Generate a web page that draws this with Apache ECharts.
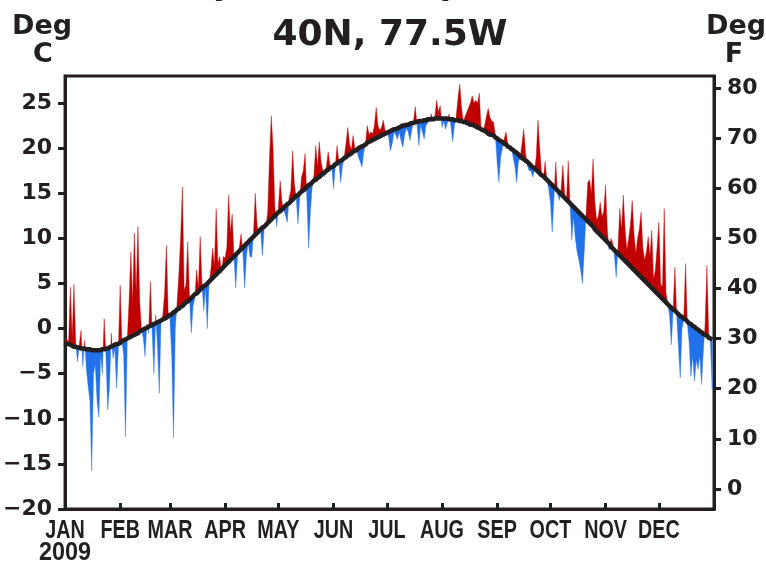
<!DOCTYPE html>
<html><head><meta charset="utf-8">
<script src="https://cdn.jsdelivr.net/npm/echarts@6/dist/echarts.min.js"></script>
<style>html,body{margin:0;padding:0;background:#fff}#c{width:766px;height:568px}</style>
</head><body><div id="c"></div>
<script>
// ---- data ----
const monthStarts = [0,31,59,90,120,151,181,212,243,273,304,334];
const monthNames = ['JAN','FEB','MAR','APR','MAY','JUN','JUL','AUG','SEP','OCT','NOV','DEC'];
const yearLabel = '2009';
const ticksC = [-20,-15,-10,-5,0,5,10,15,20,25];
const ticksF = [0,10,20,30,40,50,60,70,80];
const titleMain = '40N, 77.5W';
const titleTop = 'Daily Mean Temperature';

// daily climatology (deg C), Jan 1 .. Dec 31
const climatology = [
-1.6,-1.7,-1.7,-1.8,-1.9, -2.0,-2.0,-2.1,-2.1,-2.2, -2.2,-2.2,-2.3,-2.3,-2.3, -2.4,-2.4,-2.4,-2.4,-2.4,
-2.4,-2.3,-2.3,-2.2,-2.2, -2.1,-2.0,-1.9,-1.8,-1.7, -1.7,-1.6,-1.4,-1.3,-1.2, -1.1,-1.0,-0.9,-0.8,-0.7,
-0.6,-0.5,-0.3,-0.2,-0.1, 0.0,0.1,0.2,0.3,0.4, 0.5,0.6,0.7,0.8,0.9, 1.0,1.1,1.2,1.4,1.5,
1.6,1.8,1.9,2.1,2.2, 2.4,2.5,2.7,2.9,3.0, 3.2,3.4,3.6,3.8,3.9, 4.1,4.3,4.5,4.7,4.8,
5.0,5.2,5.4,5.6,5.8, 6.0,6.2,6.4,6.6,6.8, 7.0,7.2,7.4,7.6,7.8, 8.0,8.2,8.4,8.6,8.8,
9.0,9.2,9.4,9.6,9.8, 10.0,10.2,10.4,10.6,10.8, 11.0,11.2,11.3,11.5,11.7, 11.9,12.1,12.3,12.5,12.7,
12.9,13.0,13.2,13.4,13.6, 13.8,13.9,14.1,14.3,14.5, 14.7,14.8,15.0,15.2,15.3, 15.5,15.7,15.9,16.0,16.2,
16.4,16.5,16.7,16.8,17.0, 17.2,17.3,17.5,17.6,17.8, 17.9,18.0,18.2,18.3,18.5, 18.6,18.7,18.9,19.0,19.2,
19.3,19.4,19.6,19.7,19.8, 20.0,20.1,20.2,20.3,20.4, 20.6,20.7,20.8,20.9,21.0, 21.1,21.2,21.3,21.4,21.5,
21.6,21.7,21.8,21.9,22.0, 22.1,22.1,22.2,22.3,22.4, 22.5,22.5,22.6,22.6,22.7, 22.8,22.8,22.9,22.9,23.0,
23.0,23.0,23.1,23.1,23.2, 23.2,23.2,23.2,23.3,23.3, 23.3,23.3,23.3,23.3,23.3, 23.3,23.2,23.2,23.2,23.1,
23.1,23.1,23.0,23.0,22.9, 22.9,22.8,22.7,22.6,22.6, 22.5,22.4,22.3,22.2,22.1, 22.0,21.9,21.8,21.6,21.5,
21.5,21.4,21.2,21.1,20.9, 20.8,20.7,20.5,20.4,20.2, 20.1,19.9,19.8,19.6,19.5, 19.3,19.1,18.9,18.8,18.6,
18.5,18.3,18.1,17.9,17.8, 17.6,17.4,17.2,17.0,16.9, 16.7,16.5,16.3,16.1,15.9, 15.7,15.5,15.3,15.1,14.9,
14.7,14.5,14.3,14.1,13.9, 13.7,13.5,13.3,13.1,12.9, 12.7,12.5,12.3,12.1,11.9, 11.7,11.5,11.3,11.0,10.8,
10.6,10.4,10.2,10.0,9.8, 9.6,9.4,9.1,8.9,8.7, 8.5,8.3,8.1,7.9,7.7, 7.5,7.3,7.1,6.9,6.7,
6.5,6.3,6.1,5.9,5.7, 5.5,5.3,5.1,4.9,4.7, 4.5,4.3,4.1,3.9,3.7, 3.5,3.3,3.1,2.9,2.7,
2.5,2.3,2.1,2.0,1.8, 1.6,1.4,1.3,1.1,1.0, 0.8,0.6,0.5,0.3,0.2, 0.0,-0.1,-0.3,-0.4,-0.6,
-0.7,-0.8,-1.0,-1.1,-1.2
];

// daily observed mean temperature 2009 (deg C)
const observed = [
-0.9,-1.2,-1.5,4.6,-1.0,4.9,-1.5,-3.7,-1.8,-0.2,
-4.2,-1.3,-4.5,-6.4,-8.0,-15.8,-5.0,-4.0,-8.0,-9.8,
-3.0,-5.0,1.1,-3.0,-9.0,-6.4,-0.5,-3.3,-2.2,-6.6,
-2.2,4.8,-1.5,-3.0,-12.0,-1.2,3.0,8.5,3.0,10.6,
4.0,11.3,3.0,-0.2,-1.0,-3.1,0.5,-0.5,5.2,-0.5,
-5.0,1.5,-2.0,-7.2,0.9,1.5,4.0,9.2,1.85,1.0,
-3.0,-12.1,0.0,2.8,6.0,10.0,15.7,4.3,4.8,9.6,
3.5,-0.5,2.5,3.4,6.5,4.5,10.2,5.0,2.0,4.5,
0.0,5.0,6.5,8.9,7.0,13.3,7.2,8.0,6.1,8.0,
7.8,9.0,14.8,10.6,12.7,8.0,4.5,8.0,9.0,10.5,
8.5,4.5,8.0,9.5,8.0,7.9,10.5,15.0,11.5,10.5,
10.8,8.1,11.0,11.3,13.0,19.0,23.6,20.0,13.5,11.3,
13.5,16.4,14.0,13.2,12.5,11.8,14.5,15.3,19.7,16.0,
14.5,11.6,14.5,16.8,17.5,19.4,14.5,8.9,13.0,15.7,
17.0,20.3,18.0,20.7,18.5,17.5,16.8,18.0,19.6,18.2,
17.9,15.5,18.0,20.3,18.5,16.2,18.0,19.0,20.5,22.3,
20.5,19.8,21.4,20.0,19.9,19.0,18.5,17.9,19.5,20.5,
22.5,21.5,21.8,21.6,22.5,24.5,22.5,22.0,22.3,23.1,
22.0,21.8,21.2,19.7,20.5,21.8,21.5,21.0,21.8,20.8,
20.1,21.5,22.2,21.8,20.85,22.0,23.0,24.6,22.5,20.3,
22.5,21.8,21.0,22.5,22.8,23.0,23.8,23.0,23.5,25.3,
24.0,24.7,22.3,23.0,22.1,22.8,23.8,22.5,20.7,22.5,
23.5,25.5,27.1,24.5,22.9,23.5,24.0,24.5,25.0,25.8,
25.0,25.3,25.0,26.1,22.1,22.0,22.5,23.5,24.4,23.4,
23.0,22.9,21.5,18.5,16.2,19.0,20.0,21.0,21.8,20.5,
20.0,20.2,19.0,18.0,16.2,18.5,19.0,20.5,22.1,19.5,
18.1,17.5,17.5,16.8,17.5,19.0,23.1,20.0,17.2,16.5,
18.5,16.5,15.5,14.0,10.7,14.5,18.45,15.0,14.2,15.5,
18.1,15.0,14.0,18.6,14.0,9.8,12.4,10.0,8.5,7.6,
6.5,5.0,8.5,12.5,16.2,16.5,15.0,18.8,14.0,12.0,
12.5,14.0,12.4,13.0,15.9,11.0,8.7,10.0,9.5,8.0,
5.7,9.0,13.3,11.0,14.8,11.0,8.7,10.0,11.5,14.2,
10.5,8.3,10.0,11.0,12.9,9.0,7.6,8.5,10.2,8.0,
10.9,5.4,6.5,9.0,11.8,5.0,4.6,13.3,4.0,2.7,
1.5,-1.8,2.0,6.8,1.5,-2.0,-5.5,0.0,1.0,7.2,
0.5,-1.5,-5.3,-3.0,-5.8,-3.5,-4.5,-3.0,-6.2,-2.5,
0.5,7.0,-0.5,-1.5,-6.8
];

const n = Math.min(observed.length, climatology.length);
const climData = [];
for (let i = 0; i < n; i++) climData.push([i, climatology[i]]);

// vertices along the year (with obs/clim crossings) in data space
function diffVertices() {
  const v = [];
  for (let i = 0; i < n; i++) {
    const o = observed[i], c = climatology[i];
    v.push({x: i, o: o, c: c});
    if (i < n - 1) {
      const d0 = o - c, d1 = observed[i + 1] - climatology[i + 1];
      if (d0 * d1 < 0) {
        const t = d0 / (d0 - d1);
        const cc = c + t * (climatology[i + 1] - c);
        v.push({x: i + t, o: cc, c: cc});
      }
    }
  }
  return v;
}

const INK = '#231f20';
const RED = '#c00000';
const BLUE = '#2172ea';
const numFont = 'DejaVu Sans';
const fmtNum = v => String(v).replace('-', '\u2212');

function renderDiff(params, api) {
  const v = diffVertices();
  const warm = [], cold = [];
  v.forEach(p => { warm.push(api.coord([p.x, Math.max(p.o, p.c)])); cold.push(api.coord([p.x, Math.min(p.o, p.c)])); });
  for (let k = v.length - 1; k >= 0; k--) {
    const q = api.coord([v[k].x, v[k].c]);
    warm.push(q); cold.push(q);
  }
  return {type: 'group', children: [
    {type: 'polygon', shape: {points: cold}, style: {fill: BLUE, stroke: BLUE, lineWidth: 0.4}},
    {type: 'polygon', shape: {points: warm}, style: {fill: RED, stroke: RED, lineWidth: 0.4}}
  ]};
}

const chart = echarts.init(document.getElementById('c'), null, {renderer: 'canvas'});
chart.setOption({
  animation: false,
  backgroundColor: '#fff',
  grid: {left: 65, right: 52, top: 76, bottom: 59, show: true, borderColor: INK, borderWidth: 3, backgroundColor: 'transparent'},
  xAxis: {
    type: 'value', min: 0, max: 365,
    axisLine: {show: true, onZero: false, lineStyle: {color: INK, width: 3}},
    axisTick: {show: true, inside: true, length: 6, customValues: monthStarts, lineStyle: {color: INK, width: 3}},
    axisLabel: {show: false},
    splitLine: {show: false}
  },
  yAxis: [
    {
      type: 'value', position: 'left', min: -20, max: 28,
      axisLine: {show: true, onZero: false, lineStyle: {color: INK, width: 3}},
      axisTick: {show: true, length: 7, customValues: ticksC, lineStyle: {color: INK, width: 3}},
      axisLabel: {customValues: ticksC, margin: 13, formatter: fmtNum, fontFamily: numFont, fontWeight: 'bold', fontSize: 22, color: INK},
      splitLine: {show: false}
    },
    {
      type: 'value', position: 'right', min: -4, max: 82.4,
      axisLine: {show: true, onZero: false, lineStyle: {color: INK, width: 3}},
      axisTick: {show: true, length: 7, customValues: ticksF, lineStyle: {color: INK, width: 3}},
      axisLabel: {customValues: ticksF, margin: 13, formatter: fmtNum, fontFamily: numFont, fontWeight: 'bold', fontSize: 22, color: INK},
      splitLine: {show: false}
    }
  ],
  series: [
    {type: 'custom', name: 'difference', data: [[0, 0]], renderItem: renderDiff, silent: true, z: 2, clip: true},
    {type: 'line', name: 'clim', data: climData, showSymbol: false, symbol: 'none', smooth: true, lineStyle: {color: INK, width: 4.5}, silent: true, z: 5}
  ]
});

// month labels placed through the x axis scale (condensed like the original)
const labelEls = monthNames.map((m, k) => {
  const px = chart.convertToPixel({xAxisIndex: 0}, monthStarts[k]);
  return {type: 'text', x: px, y: 531, scaleX: 0.76, style: {text: m, font: 'bold 26px "Liberation Sans"', fill: INK, textAlign: 'center', textVerticalAlign: 'middle'}};
});
const yearEl = {type: 'text', x: chart.convertToPixel({xAxisIndex: 0}, monthStarts[0]), y: 553, scaleX: 0.9, style: {text: yearLabel, font: 'bold 26px "Liberation Sans"', fill: INK, textAlign: 'center', textVerticalAlign: 'middle'}};

chart.setOption({
  graphic: [
    {type: 'text', x: 138, y: 2, style: {text: titleTop, font: 'bold 34px "DejaVu Sans"', fill: INK, textAlign: 'left', textVerticalAlign: 'bottom'}},
    {type: 'text', x: 390, y: 36, style: {text: titleMain, font: 'bold 36px "DejaVu Sans"', fill: INK, textAlign: 'center', textVerticalAlign: 'middle'}},
    {type: 'text', x: 42, y: 27, style: {text: 'Deg', font: 'bold 27px "DejaVu Sans"', fill: INK, textAlign: 'center', textVerticalAlign: 'middle'}},
    {type: 'text', x: 43, y: 55, style: {text: 'C', font: 'bold 27px "DejaVu Sans"', fill: INK, textAlign: 'center', textVerticalAlign: 'middle'}},
    {type: 'text', x: 736, y: 27, style: {text: 'Deg', font: 'bold 27px "DejaVu Sans"', fill: INK, textAlign: 'center', textVerticalAlign: 'middle'}},
    {type: 'text', x: 734, y: 55, style: {text: 'F', font: 'bold 27px "DejaVu Sans"', fill: INK, textAlign: 'center', textVerticalAlign: 'middle'}}
  ].concat(labelEls, [yearEl])
});
</script></body></html>
